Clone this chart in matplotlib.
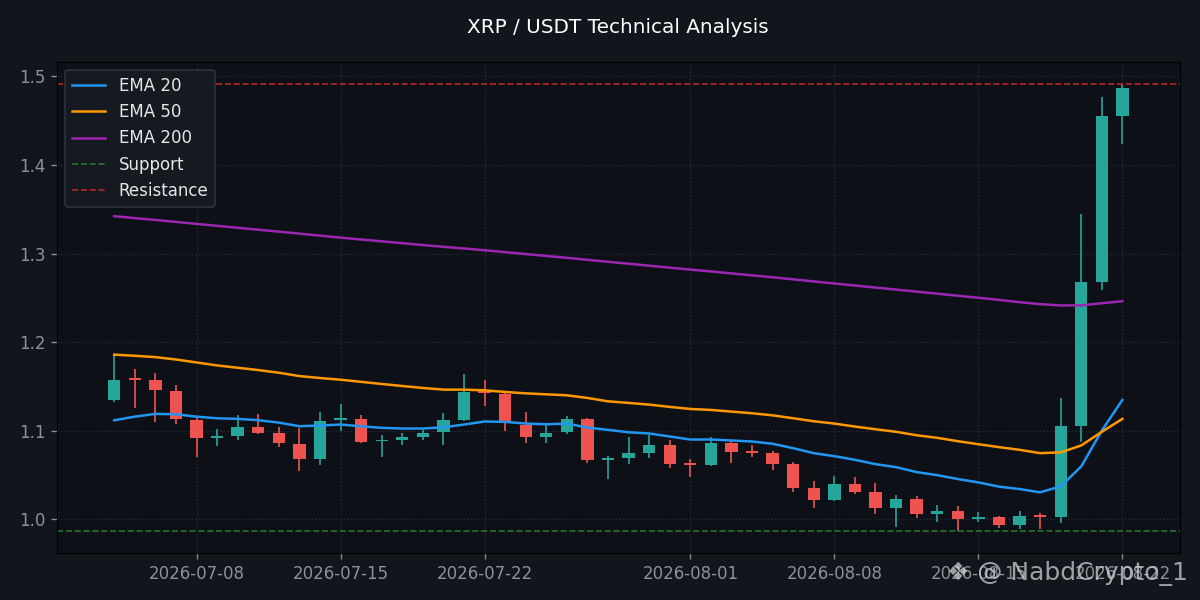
import numpy as np
import pandas as pd
import matplotlib
matplotlib.use('Agg')
from matplotlib import pyplot as plt

# candle data, one row per day from 2026-07-04 to 2026-08-22
dates = pd.date_range('2026-07-04', '2026-08-22', freq='D')

opens = [1.135, 1.1580, 1.1577, 1.1454, 1.1127, 1.0920, 1.0939, 1.1048, 1.0970, 1.0857,
         1.0680, 1.1120, 1.1138, 1.0880, 1.0894, 1.0936, 1.0984, 1.1127, 1.1455, 1.1417,
         1.1071, 1.0928, 1.0984, 1.1138, 1.0675, 1.0692, 1.0748, 1.0835, 1.0625, 1.0613,
         1.0868, 1.0760, 1.0745, 1.0621, 1.0353, 1.0220, 1.0397, 1.0307, 1.0126, 1.0228,
         1.0059, 1.0093, 1.0000, 1.0026, 0.9935, 1.0037, 1.0026, 1.1059, 1.2678, 1.4550]
highs = [1.1860, 1.1700, 1.1656, 1.1520, 1.1153, 1.1023, 1.1183, 1.1195, 1.1045, 1.1037,
         1.1217, 1.1307, 1.1183, 1.0958, 1.0980, 1.1011, 1.1206, 1.1645, 1.1577, 1.1434,
         1.1217, 1.1063, 1.1172, 1.1150, 1.0711, 1.0936, 1.0950, 1.0902, 1.0677, 1.0936,
         1.0880, 1.0835, 1.0767, 1.0643, 1.0430, 1.0486, 1.0475, 1.0408, 1.0273, 1.0262,
         1.0160, 1.0150, 1.0082, 1.0037, 1.0093, 1.0070, 1.1366, 1.3444, 1.4764, 1.4913]
lows = [1.1322, 1.1254, 1.1097, 1.1074, 1.0703, 1.0827, 1.0894, 1.0962, 1.0816, 1.0546,
        1.0613, 1.0996, 1.0858, 1.0700, 1.0835, 1.0891, 1.0835, 1.1116, 1.1285, 1.1003,
        1.0858, 1.0861, 1.0962, 1.0636, 1.0456, 1.0624, 1.0692, 1.0579, 1.0478, 1.0605,
        1.0636, 1.0703, 1.0557, 1.0309, 1.0131, 1.0208, 1.0288, 1.0063, 0.9910, 1.0014,
        0.9975, 0.9871, 0.9975, 0.9902, 0.9890, 0.9890, 0.9960, 1.0878, 1.2588, 1.4236]
closes = [1.1577, 1.1578, 1.1457, 1.1130, 1.0917, 1.0940, 1.1048, 1.0973, 1.0860, 1.0680,
          1.1116, 1.1130, 1.0872, 1.0890, 1.0936, 1.0981, 1.1127, 1.1443, 1.1423, 1.1097,
          1.0928, 1.0981, 1.1138, 1.0669, 1.0682, 1.0745, 1.0835, 1.0624, 1.0615, 1.0868,
          1.0760, 1.0748, 1.0624, 1.0354, 1.0220, 1.0397, 1.0311, 1.0126, 1.0228, 1.0059,
          1.0093, 1.0003, 1.0015, 0.9935, 1.0037, 1.0030, 1.1059, 1.2678, 1.4550, 1.4865]

ema20 = [1.1119, 1.1160, 1.1191, 1.1187, 1.1160, 1.1142, 1.1135, 1.1120, 1.1093, 1.1052,
         1.1060, 1.1071, 1.1051, 1.1034, 1.1026, 1.1026, 1.1040, 1.1071, 1.1105, 1.1101,
         1.1082, 1.1074, 1.1082, 1.1037, 1.1011, 1.0984, 1.0970, 1.0936, 1.0902, 1.0902,
         1.0891, 1.0880, 1.0854, 1.0804, 1.0748, 1.0714, 1.0673, 1.0624, 1.0590, 1.0534,
         1.0500, 1.0456, 1.0418, 1.0370, 1.0343, 1.0306, 1.0373, 1.0598, 1.1003, 1.1349]
ema50 = [1.1860, 1.1847, 1.1832, 1.1805, 1.1772, 1.1738, 1.1712, 1.1686, 1.1656, 1.1618,
         1.1596, 1.1577, 1.1553, 1.1529, 1.1506, 1.1484, 1.1465, 1.1465, 1.1457, 1.1439,
         1.1423, 1.1412, 1.1401, 1.1371, 1.1333, 1.1315, 1.1296, 1.1270, 1.1247, 1.1236,
         1.1217, 1.1198, 1.1175, 1.1142, 1.1108, 1.1082, 1.1048, 1.1018, 1.0989, 1.0950,
         1.0921, 1.0883, 1.0849, 1.0816, 1.0786, 1.0748, 1.0757, 1.0835, 1.0989, 1.1135]
ema200 = [1.3423, 1.3401, 1.3380, 1.3358, 1.3336, 1.3314, 1.3292, 1.3270, 1.3248, 1.3226,
          1.3203, 1.3180, 1.3160, 1.3139, 1.3118, 1.3097, 1.3077, 1.3058, 1.3038, 1.3017,
          1.2995, 1.2974, 1.2953, 1.2930, 1.2908, 1.2886, 1.2864, 1.2842, 1.2820, 1.2799,
          1.2777, 1.2755, 1.2733, 1.2710, 1.2686, 1.2663, 1.2640, 1.2617, 1.2594, 1.2571,
          1.2548, 1.2525, 1.2502, 1.2478, 1.2452, 1.2430, 1.2415, 1.2416, 1.2440, 1.2463]

support = 0.9871
resistance = 1.4913

fig_bg = '#11151c'
ax_bg = '#0d1017'
up_col = '#26a69a'
down_col = '#ef5350'
text_col = '#8b929b'

fig, ax = plt.subplots(figsize=(10, 5), dpi=120)
fig.patch.set_facecolor(fig_bg)
ax.set_facecolor(ax_bg)
fig.subplots_adjust(left=0.0475, right=0.983, bottom=0.078, top=0.897)

o = np.array(opens)
c = np.array(closes)
cols = [up_col if cc >= oo else down_col for oo, cc in zip(o, c)]

# wicks then bodies
ax.vlines(dates, lows, highs, colors=cols, linewidth=1.0, zorder=2)
body_h = np.maximum(np.abs(c - o), 0.0022)
body_b = np.minimum(o, c)
ax.bar(dates, body_h, bottom=body_b, width=0.6, color=cols, zorder=3)

ax.plot(dates, ema20, color='#2196f3', linewidth=1.5, label='EMA 20', zorder=4)
ax.plot(dates, ema50, color='#ff9800', linewidth=1.5, label='EMA 50', zorder=4)
ax.plot(dates, ema200, color='#9c27b0', linewidth=1.5, label='EMA 200', zorder=4)
ax.axhline(support, color='#2e7d32', linestyle='--', linewidth=1.0, alpha=0.9, label='Support')
ax.axhline(resistance, color='#c62828', linestyle='--', linewidth=1.0, alpha=0.9, label='Resistance')

ax.set_title('XRP / USDT Technical Analysis', color='white', fontsize=12, pad=17)
ax.grid(True, color='#3a3f48', linestyle=':', linewidth=0.8, alpha=0.6)
ax.tick_params(colors=text_col, labelsize=10)
for s in ax.spines.values():
    s.set_color('black')

leg = ax.legend(loc='upper left', facecolor='#161a21', edgecolor='#30353d',
                fontsize=10, framealpha=0.95)
for t in leg.get_texts():
    t.set_color('#e6e6e6')

# watermark (sits over the last tick labels, as in the source)
fig.text(0.99, 0.045, '\u2756 @ NabdCrypto_1', color='#d0d0d0', alpha=0.75,
         fontsize=15, ha='right', va='center')

fig.savefig('out.png', dpi=120, facecolor=fig.get_facecolor())
